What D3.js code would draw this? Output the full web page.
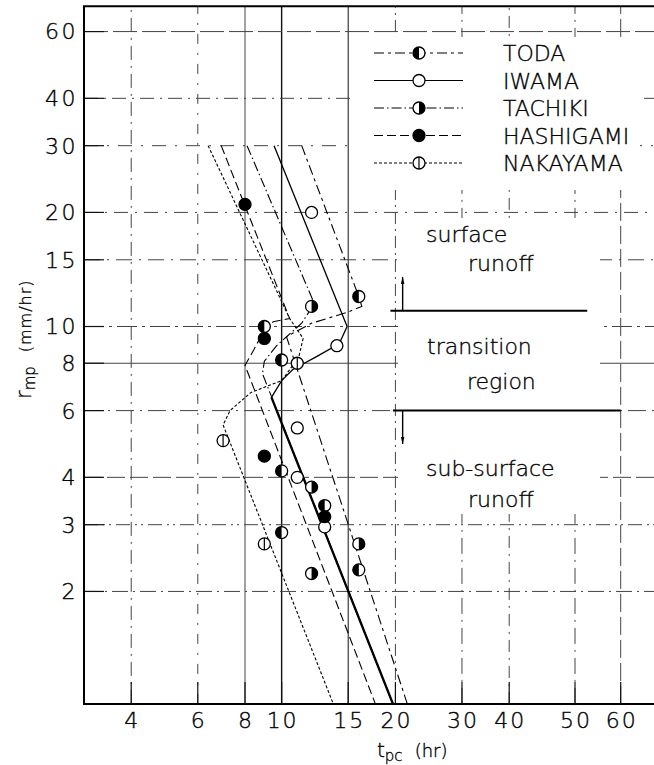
<!DOCTYPE html>
<html><head><meta charset="utf-8">
<script src="https://cdn.jsdelivr.net/npm/d3@7"></script>
<style>
html,body{margin:0;padding:0;background:#fff;}
svg{display:block;font-family:"DejaVu Sans",sans-serif;font-weight:200;}
svg text{fill:#000;stroke:#000;stroke-width:0.35px;}
</style></head><body>
<svg id="chart" width="654" height="765"></svg>
<script>
// Axis ticks
const xTicks = [4, 6, 8, 10, 15, 20, 30, 40, 50, 60];
const yTicks = [2, 3, 4, 6, 8, 10, 15, 20, 30, 40, 60];

// Observed points per station: [t_pc (hr), r_mp (mm/hr)]
const todaPts      = [[16, 12], [9, 10], [10, 8.16], [10, 4.16], [13, 3.37], [10, 2.86], [16, 2.28]];
const iwamaPts     = [[12, 20], [14, 8.9], [11, 5.4], [11, 4.0], [13, 2.96]];
const tachikiPts   = [[12, 11.3], [12, 3.77], [16, 2.67], [12, 2.23]];
const hashigamiPts = [[8, 21], [9, 9.3], [9, 4.55], [13, 3.15]];
const nakayamaPts  = [[11, 8.0], [7, 5.0], [9, 2.67]];

// Fitted relation per station: upper branch, transition, lower branch
const todaLine      = [[11.3, 30], [15.9, 12.2], [16.3, 11.3], [14.9, 10.9], [12.0, 10.2], [10.3, 9.4], [21.5, 1.01]];
const iwamaLine     = [[9.55, 30], [14.9, 10], [14.2, 9.0], [12.3, 8.3], [10.7, 7.7], [10.0, 7.2], [9.4, 6.5], [19.7, 1.01]];
const tachikiLine   = [[8.1, 30], [12.2, 11.5], [11.3, 10.2], [9.7, 8.9], [9.0, 8.1], [8.9, 7.5], [19.7, 1.01]];
const hashigamiLine = [[6.92, 30], [10.5, 10.5], [9.5, 10.3], [8.9, 9.6], [8.45, 8.7], [8.0, 7.9], [17.7, 1.01]];
const nakayamaLine  = [[6.39, 30], [10.5, 10.5], [11.4, 9.3], [11.1, 8.3], [10.0, 7.2], [8.3, 6.7], [7.3, 6.0], [7.0, 5.5], [13.7, 1.01]];

// Regime boundaries
const surfaceBound    = [[19.4, 11], [52.5, 11]];
const subsurfaceBound = [[19.7, 6], [60, 6]];

const svg = d3.select("#chart");

// Log axes; the right end of the time axis follows the paper's 50 / 60 rulings
const x = d3.scaleLog().domain([3, 40, 50, 60, 70]).range([84, 509.2, 575, 620.7, 659.5]);
const y = d3.scaleLog().domain([1.01, 70]).range([703.9, 6.2]);

const X0 = x(3), X1 = 660, Y0 = y(1.01), Y1 = y(70);

// Grid line styles
const xGridDash = {4: "14,6,2,6", 6: "10,9,2,9", 8: null, 10: null, 15: null, 20: "12,5,2,5", 30: "16,6,2,6", 40: "12,6,2,6", 50: "16,6,2,6", 60: "18,5"};
const yGridDash = {2: "16,5,2,5", 3: "14,5,2,4,2,5", 4: "18,5", 6: "18,6,2,6", 8: null, 10: "20,5,3,5", 15: "16,7,2,7", 20: "14,7,2,7", 30: "14,9,2,9", 40: "14,6,2,6", 60: "24,5"};

const grid = svg.append("g").attr("fill", "none");
xTicks.forEach(v => {
  grid.append("line")
    .attr("x1", x(v)).attr("x2", x(v)).attr("y1", Y0).attr("y2", Y1)
    .attr("stroke", v === 10 || v === 15 ? "#111" : "#444")
    .attr("stroke-width", v === 10 ? 1.4 : 1)
    .attr("stroke-dasharray", xGridDash[v]);
  grid.append("line")
    .attr("x1", x(v)).attr("x2", x(v)).attr("y1", Y0).attr("y2", Y0 - 22)
    .attr("stroke", "#111").attr("stroke-width", 1.2);
});
yTicks.forEach(v => {
  grid.append("line")
    .attr("x1", X0).attr("x2", X1).attr("y1", y(v)).attr("y2", y(v))
    .attr("stroke", "#444").attr("stroke-width", 1)
    .attr("stroke-dasharray", yGridDash[v]);
  grid.append("line")
    .attr("x1", X0).attr("x2", X0 + 20).attr("y1", y(v)).attr("y2", y(v))
    .attr("stroke", "#111").attr("stroke-width", 1.2);
});

// Clear paper behind the legend and the regime notes
svg.append("rect").attr("x", 355).attr("y", 37).attr("width", 285).attr("height", 153).attr("fill", "#fff");
svg.append("rect").attr("x", 398).attr("y", 218).attr("width", 202).attr("height", 296).attr("fill", "#fff");

// Frame
svg.append("path")
  .attr("d", `M${X1},${Y1}H${X0}V${Y0}H${X1}`)
  .attr("fill", "none").attr("stroke", "#000").attr("stroke-width", 2);

// Tick labels
svg.append("g").selectAll("text").data(yTicks).join("text")
  .attr("x", 78).attr("y", d => y(d)).attr("dy", "0.36em")
  .attr("text-anchor", "end").attr("font-size", 22).attr("letter-spacing", 2.5)
  .text(d => d);
svg.append("g").selectAll("text").data(xTicks).join("text")
  .attr("x", d => x(d) + 1).attr("y", 728)
  .attr("text-anchor", "middle").attr("font-size", 22).attr("letter-spacing", 2)
  .text(d => d);

// Axis titles
const xt = svg.append("text").attr("x", 377).attr("y", 757).attr("font-size", 20);
xt.append("tspan").text("t");
xt.append("tspan").attr("font-size", 15).attr("dy", 4).text("pc");
xt.append("tspan").attr("dy", -4).attr("dx", 12).attr("font-size", 18).text("(hr)");

const yt = svg.append("text").attr("transform", "translate(31,399) rotate(-90)").attr("font-size", 21);
yt.append("tspan").text("r");
yt.append("tspan").attr("font-size", 15).attr("dy", 4).text("mp");
yt.append("tspan").attr("dy", -4).attr("dx", 14).attr("font-size", 16).attr("letter-spacing", 1).text("(mm/hr)");

// Station styles
const series = [
  {name: "TODA",      pts: todaPts,      line: todaLine,      dash: "10,4,3,4",   mark: "left"},
  {name: "IWAMA",     pts: iwamaPts,     line: iwamaLine,     dash: null,         mark: "open"},
  {name: "TACHIKI",   pts: tachikiPts,   line: tachikiLine,   dash: "10,3,1.5,3", mark: "right"},
  {name: "HASHIGAMI", pts: hashigamiPts, line: hashigamiLine, dash: "9,4",        mark: "full"},
  {name: "NAKAYAMA",  pts: nakayamaPts,  line: nakayamaLine,  dash: "3,2",        mark: "bar"}
];

const lineGen = d3.line().x(d => x(d[0])).y(d => y(d[1])).curve(d3.curveLinear);
const curves = svg.append("g").attr("fill", "none").attr("stroke", "#000");
series.forEach(s => {
  curves.append("path").attr("d", lineGen(s.line))
    .attr("stroke-width", s.name === "IWAMA" ? 1.3 : 1.1)
    .attr("stroke-dasharray", s.dash);
});
// IWAMA's sub-surface branch is inked heavier
curves.append("path").attr("d", lineGen(iwamaLine.slice(-2))).attr("stroke-width", 2.3);

const R = 6;
function marker(g, cx, cy, kind) {
  const m = g.append("g").attr("transform", `translate(${cx},${cy})`);
  m.append("circle").attr("r", R).attr("fill", kind === "full" ? "#000" : "#fff")
    .attr("stroke", "#000").attr("stroke-width", 1.3);
  if (kind === "left")
    m.append("path").attr("d", `M0,${-R}A${R},${R} 0 0 0 0,${R}Z`).attr("fill", "#000");
  if (kind === "right")
    m.append("path").attr("d", `M0,${-R}A${R},${R} 0 0 1 0,${R}Z`).attr("fill", "#000");
  if (kind === "bar")
    m.append("line").attr("y1", -R).attr("y2", R).attr("stroke", "#000").attr("stroke-width", 1.2);
}
const marks = svg.append("g");
series.forEach(s => s.pts.forEach(p => marker(marks, x(p[0]), y(p[1]), s.mark)));

// Legend
const leg = svg.append("g");
series.forEach((s, i) => {
  const ly = 53 + i * 27.5;
  leg.append("line").attr("x1", 374).attr("x2", 463).attr("y1", ly).attr("y2", ly)
    .attr("stroke", "#000").attr("stroke-width", 1.1).attr("stroke-dasharray", s.dash);
  marker(leg, 419, ly, s.mark);
  leg.append("text").attr("x", 503).attr("y", ly).attr("dy", "0.37em").attr("font-size", 22).text(s.name);
});

// Regime boundaries, arrows and labels
const bound = svg.append("g").attr("stroke", "#000").attr("stroke-width", 2);
[surfaceBound, subsurfaceBound].forEach(b => {
  bound.append("line").attr("x1", x(b[0][0])).attr("x2", x(b[1][0]))
    .attr("y1", y(b[0][1])).attr("y2", y(b[1][1]));
});
const arrowX = x(20.9);
svg.append("defs").append("marker").attr("id", "ah").attr("viewBox", "0 0 10 10")
  .attr("refX", 10).attr("refY", 5).attr("markerWidth", 5).attr("markerHeight", 9).attr("orient", "auto")
  .append("path").attr("d", "M0,2.5L10,5L0,7.5Z").attr("fill", "#000");
svg.append("line").attr("x1", arrowX).attr("x2", arrowX).attr("y1", y(11)).attr("y2", y(13.5))
  .attr("stroke", "#000").attr("stroke-width", 1.4).attr("marker-end", "url(#ah)");
svg.append("line").attr("x1", arrowX).attr("x2", arrowX).attr("y1", y(6)).attr("y2", y(4.9))
  .attr("stroke", "#000").attr("stroke-width", 1.4).attr("marker-end", "url(#ah)");

const labels = [
  {t: "surface", x: 426, y: 242}, {t: "runoff", x: 468, y: 271},
  {t: "transition", x: 427, y: 354}, {t: "region", x: 467, y: 389},
  {t: "sub-surface", x: 426, y: 476}, {t: "runoff", x: 468, y: 507}
];
svg.append("g").selectAll("text").data(labels).join("text")
  .attr("x", d => d.x).attr("y", d => d.y).attr("font-size", 22).text(d => d.t);
</script>
</body></html>
